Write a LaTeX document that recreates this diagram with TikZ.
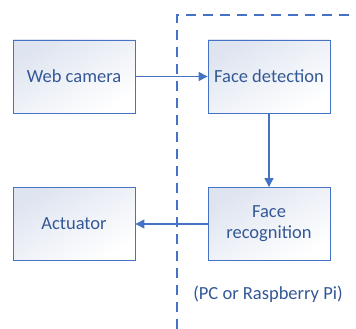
\documentclass[tikz,border=0pt]{standalone}
\usepackage{fontspec}
\setmainfont{Carlito}
\usetikzlibrary{arrows.meta}
\definecolor{boxblue}{RGB}{68,114,196}
\definecolor{txtblue}{RGB}{52,88,150}
\definecolor{shadeblue}{RGB}{222,228,240}
\tikzset{
  x=1pt,y=-1pt,
  blockbox/.style={draw=boxblue, line width=0.9pt, minimum width=122pt, minimum height=73pt,
    align=center, text=txtblue, font=\fontsize{18.5}{21}\selectfont,
    top color=shadeblue, bottom color=white, shading angle=30},
  flow/.style={draw=boxblue, line width=1.3pt, -{Triangle[length=9pt,width=9pt]}},
  bound/.style={draw=boxblue, line width=1.8pt, dash pattern=on 10pt off 7pt}
}
\begin{document}
\begin{tikzpicture}
\useasboundingbox (0,0) rectangle (356,329);
\fill[white] (0,0) rectangle (356,329);
\coordinate (dtop) at (177,329);
\coordinate (dcorner) at (177,15);
\coordinate (dright) at (357,15);
\draw[bound] (dtop) -- (dcorner) -- (dright);
\node[blockbox] (cam) at (74,76.5) {Web camera};
\node[blockbox] (det) at (269,76.5) {Face detection};
\node[blockbox] (rec) at (269,224) {Face\\recognition};
\node[blockbox] (act) at (74,224) {Actuator};
\node[text=txtblue, font=\fontsize{18.5}{21}\selectfont] (pc) at (268,294) {(PC or Raspberry Pi)};
\draw[flow] (cam) -- (det);
\draw[flow] (det) -- (rec);
\draw[flow] (rec) -- (act);
\end{tikzpicture}
\end{document}
